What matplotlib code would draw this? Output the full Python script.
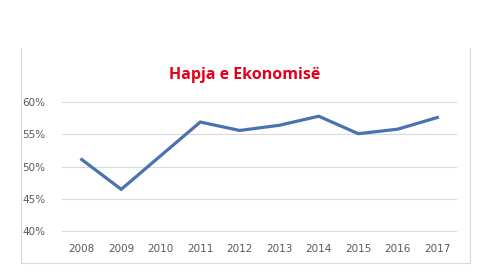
import matplotlib
matplotlib.use("Agg")
from matplotlib import pyplot as plt
from matplotlib.lines import Line2D
from matplotlib.ticker import FuncFormatter

years = ["2008", "2009", "2010", "2011", "2012", "2013", "2014", "2015", "2016", "2017"]
hapja = [51.1, 46.5, 51.7, 56.9, 55.6, 56.4, 57.8, 55.1, 55.8, 57.6]
y_ticks = [40, 45, 50, 55, 60]

fig = plt.figure(figsize=(4.86, 2.75), dpi=100)

# korniza e grafikut (pa vijen e siperme)
L, R, T, B = 21 / 486, 470 / 486, 1 - 48 / 275, 1 - 263 / 275
fig.add_artist(Line2D([L, L, R, R], [T, B, B, T], transform=fig.transFigure,
                      color="#d9d9d9", linewidth=0.8))

ax = fig.add_axes([62 / 486, 1 - 232 / 275, 395 / 486, 130 / 275])
ax.plot(range(len(years)), hapja, color="#4a72b0", linewidth=2.3, solid_joinstyle="miter")

ax.set_xlim(-0.5, len(years) - 0.5)
ax.set_ylim(39.9, 60)
ax.set_xticks(range(len(years)))
ax.set_xticklabels(years)
ax.set_yticks(y_ticks)
ax.yaxis.set_major_formatter(FuncFormatter(lambda v, p: "%d%%" % v))

ax.grid(axis="y", color="#d9d9d9", linewidth=0.8)
ax.set_axisbelow(True)
for s in ax.spines.values():
    s.set_visible(False)
ax.tick_params(length=0, colors="#595959", labelsize=7.5)
ax.tick_params(axis="y", pad=12)
ax.tick_params(axis="x", pad=9)

fig.text(245 / 486, 1 - 75 / 275, "Hapja e Ekonomisë", color="#e3001b",
         fontsize=11.5, fontweight="bold", ha="center", va="center", family="Open Sans")

fig.savefig("out.png", dpi=100)
